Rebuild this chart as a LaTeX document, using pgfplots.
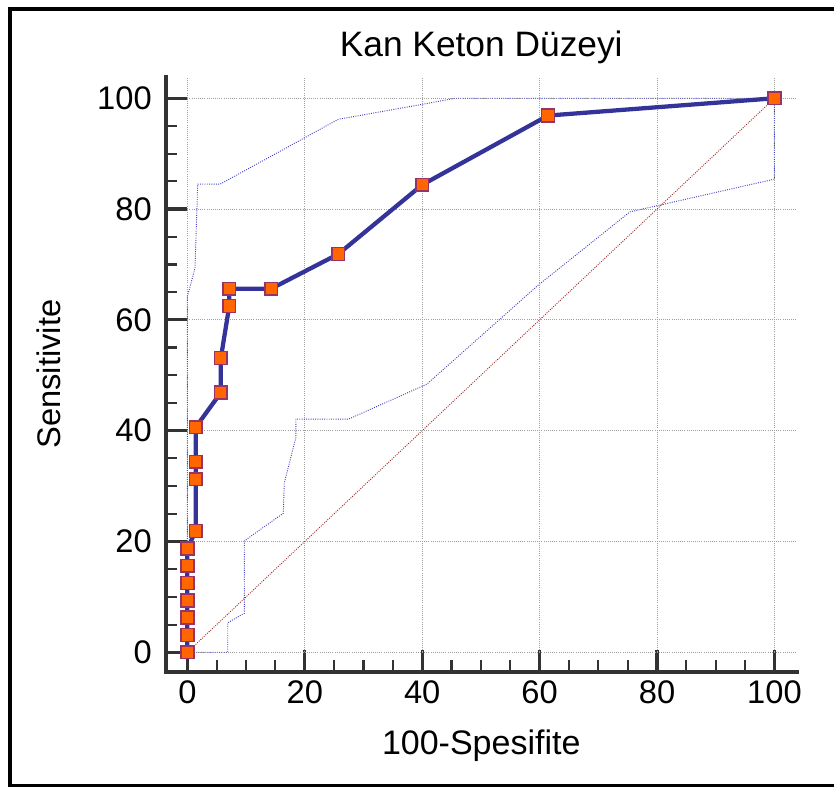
\documentclass[border=0pt]{standalone}
\usepackage{fontspec}
\setmainfont{Liberation Sans}
\usepackage{pgfplots}
\pgfplotsset{compat=1.18}

\definecolor{rocline}{HTML}{333399}
\definecolor{markfill}{HTML}{FF6600}
\definecolor{markedge}{HTML}{993366}
\definecolor{bandc}{HTML}{4040C0}
\definecolor{diagc}{HTML}{A02828}
\definecolor{gridc}{HTML}{A0A0A0}
\definecolor{axisgray}{HTML}{333333}

\newcommand{\chartfont}{\fontsize{24.5}{29}\selectfont}
\newcommand{\titlefont}{\fontsize{26.5}{31}\selectfont}

\begin{document}
\begin{tikzpicture}
\useasboundingbox (0,0) rectangle (625.5pt,590.25pt);
\draw[line width=3pt] (7.5pt,0.75pt) rectangle (627pt,583.5pt);
\begin{axis}[
    at={(124.3pt,86.5pt)}, anchor=south west,
    scale only axis,
    width=473.25pt, height=446.25pt,
    xmin=-3.68, xmax=103.8,
    ymin=-3.5, ymax=103.9,
    axis x line*=bottom, axis y line*=left,
    axis line style={line width=3pt, color=axisgray, -, line cap=rect},
    xtick={0,20,...,100}, ytick={0,20,...,100},
    minor x tick num=3, minor y tick num=3,
    tick align=inside,
    major tick length=16.2pt, minor tick length=8.5pt,
    major tick style={line width=2.4pt, color=axisgray},
    minor tick style={line width=1.6pt, color=axisgray},
    /pgf/number format/assume math mode=true,
    tick label style={font=\chartfont},
    xticklabel style={yshift=-3pt},
    yticklabel style={xshift=-7pt},
    title={Kan Keton Düzeyi},
    title style={font=\titlefont},
    xlabel={100-Spesifite},
    ylabel={Sensitivite},
    xlabel style={font=\fontsize{25.5}{30}\selectfont, at={(axis description cs:0.5,-0.140)}, anchor=base},
    ylabel style={font=\chartfont, at={(axis description cs:-0.166,0.5)}, anchor=base},
]
% grid only over the data range
\pgfplotsinvokeforeach{0,20,40,60,80,100}{
  \draw[gridc, densely dotted, line width=0.6pt] (axis cs:#1,0) -- (axis cs:#1,103.9);
  \draw[gridc, densely dotted, line width=0.6pt] (axis cs:0,#1) -- (axis cs:103.8,#1);
}

% reference diagonal
\addplot[diagc, densely dotted, line width=0.7pt] coordinates {(0,0) (100,100)};

% confidence bounds
\addplot[bandc, densely dotted, line width=0.7pt] coordinates {
  (0,0) (0,64.2) (1.3,69.3) (1.77,84.5) (5.6,84.5) (25.7,96.2) (40,98.9) (45.6,100) (100,100)
};
\addplot[bandc, densely dotted, line width=0.7pt] coordinates {
  (0,0) (6.88,0) (6.88,5.34) (9.71,7.04) (9.71,20.1) (16.35,25.1) (16.5,30.5)
  (18.5,38.8) (18.5,42.1) (27.5,42.1) (40.8,48.4) (59.8,66.3) (75.4,79.5)
  (100,85.4) (100,100)
};

% ROC curve
\addplot[rocline, line width=3.2pt, mark=square*, mark size=4.8pt,
  mark options={fill=markfill, draw=markedge, line width=1.2pt}] coordinates {
  (0,0) (0,3.125) (0,6.25) (0,9.375) (0,12.5) (0,15.625) (0,18.75)
  (1.43,21.875) (1.43,31.25) (1.43,34.375) (1.43,40.625)
  (5.71,46.875) (5.71,53.125) (7.14,62.5) (7.14,65.625)
  (14.29,65.625) (25.71,71.875) (40,84.375) (61.43,96.875) (100,100)
};
\end{axis}
\end{tikzpicture}
\end{document}
